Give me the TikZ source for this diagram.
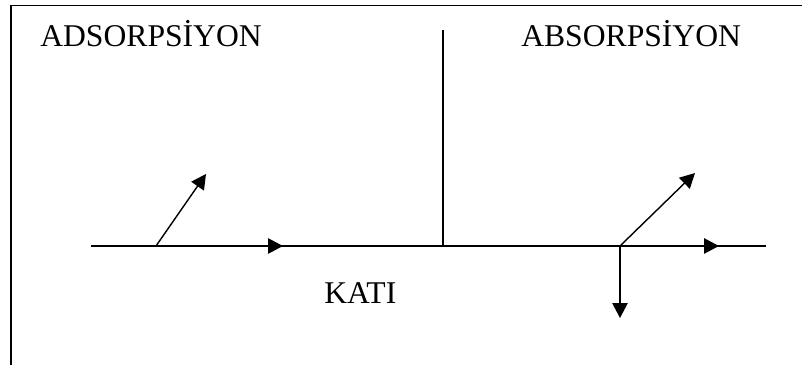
\documentclass[tikz,border=0pt]{standalone}
\usepackage{fontspec}
\setmainfont{Liberation Serif}
\usetikzlibrary{
  arrows.meta,              % Triangle arrow tips
  positioning               % relative placement
}

\begin{document}
\begin{tikzpicture}[x=0.025cm, y=-0.025cm,
  yon/.style={-{Triangle[length=0.37cm, width=0.38cm]}, line width=1pt},
  cizgi/.style={line width=1pt},
  etiket/.style={anchor=base west, inner sep=0pt, font=\fontsize{22.5}{27}\selectfont}]
  \useasboundingbox (0, 0) rectangle (802, 365);

  % frame (top and left only)
  \draw[line width=1.4pt] (802, 5.5) -- (11, 5.5) -- (11, 365);

  % titles
  \node[etiket] (ads) at (40, 47) {ADSORPSİYON};
  \node[etiket] (abs) at (521, 47) {ABSORPSİYON};
  \node[etiket] (kati) at (324, 304) {KATI};

  % surface and separator
  \coordinate (sol) at (91, 246);
  \coordinate (sag) at (766, 246);
  \coordinate (orta) at (443, 246);
  \coordinate (ust) at (443, 30);
  \draw[cizgi] (sol) -- (sag);
  \draw[cizgi] (ust) -- (orta);

  % adsorption arrows
  \coordinate (A) at (156, 246);
  \coordinate (A1) at (206, 174);
  \coordinate (A2) at (283, 246);
  \draw[yon] (A) -- (A1);
  \draw[yon] (A) -- (A2);

  % absorption arrows
  \coordinate (B) at (620, 246);
  \coordinate (B1) at (695, 173);
  \coordinate (B2) at (719, 246);
  \coordinate (B3) at (620, 318);
  \draw[yon] (B) -- (B1);
  \draw[yon] (B) -- (B2);
  \draw[yon] (B) -- (B3);
\end{tikzpicture}
\end{document}
